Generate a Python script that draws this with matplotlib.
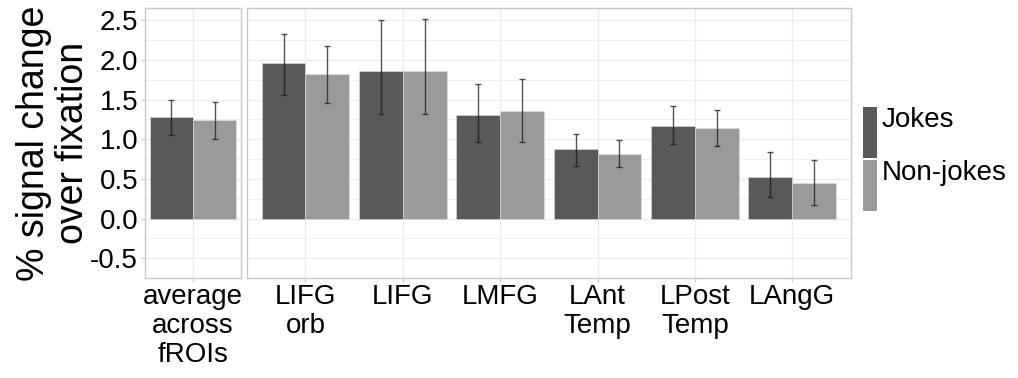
import matplotlib
matplotlib.use("Agg")
import matplotlib.pyplot as plt
import numpy as np
from matplotlib.patches import Rectangle

plt.rcParams["font.family"] = ["Liberation Sans", "DejaVu Sans"]

# average panel
avg_label = ["average\nacross\nfROIs"]
avg_jokes = [1.28]
avg_jokes_lo = [1.05]
avg_jokes_hi = [1.50]
avg_non = [1.245]
avg_non_lo = [1.005]
avg_non_hi = [1.475]

# per-fROI panel
rois = ["LIFG\norb", "LIFG", "LMFG", "LAnt\nTemp", "LPost\nTemp", "LAngG"]
jokes = [1.96, 1.86, 1.31, 0.87, 1.17, 0.525]
jokes_lo = [1.555, 1.315, 0.96, 0.66, 0.94, 0.27]
jokes_hi = [2.325, 2.50, 1.69, 1.07, 1.415, 0.84]
non_jokes = [1.825, 1.86, 1.36, 0.815, 1.145, 0.45]
non_lo = [1.46, 1.32, 0.97, 0.645, 0.91, 0.175]
non_hi = [2.17, 2.51, 1.755, 0.995, 1.37, 0.74]

series_names = ["Jokes", "Non-jokes"]
DARK = "#595959"
LIGHT = "#9a9a9a"
BORDER = "#c8c8c8"
GRID = "#ececec"
W = 1018
H = 378


def px_axes(fig, x0, y0, x1, y1):
    return fig.add_axes([x0 / W, 1 - y1 / H, (x1 - x0) / W, (y1 - y0) / H])


def draw_panel(ax, labels, a, a_lo, a_hi, b, b_lo, b_hi, xlim):
    x = np.arange(1, len(labels) + 1)
    bw = 0.45
    for vals, lo, hi, col, off in [(a, a_lo, a_hi, DARK, -bw / 2),
                                   (b, b_lo, b_hi, LIGHT, bw / 2)]:
        vals = np.array(vals)
        err = [vals - np.array(lo), np.array(hi) - vals]
        ax.bar(x + off, vals, width=bw, color=col, edgecolor="#e0e0e0",
               linewidth=0.4, zorder=2)
        ax.errorbar(x + off, vals, yerr=err, fmt="none", ecolor="#1a1a1a",
                    alpha=0.75, elinewidth=1.0, capsize=2, capthick=1.0, zorder=3)
    ax.set_xlim(*xlim)
    ax.set_ylim(-0.64, 2.65)
    ax.set_xticks(x)
    ax.set_xticklabels(labels, fontsize=20, linespacing=1.15)
    ax.set_yticks(np.arange(-0.5, 2.51, 0.5))
    ax.set_yticks(np.arange(-0.75, 2.6, 0.25), minor=True)
    ax.grid(True, which="major", color=GRID, linewidth=0.9, zorder=0)
    ax.grid(True, which="minor", axis="y", color=GRID, linewidth=0.6, zorder=0)
    ax.set_axisbelow(True)
    for s in ax.spines.values():
        s.set_color(BORDER)
        s.set_linewidth(1.0)
    ax.tick_params(axis="x", length=3, color=BORDER, pad=1)
    ax.tick_params(axis="y", which="minor", length=0)


fig = plt.figure(figsize=(W / 100, H / 100), dpi=100)

ax1 = px_axes(fig, 145, 8.3, 241, 278)
draw_panel(ax1, avg_label, avg_jokes, avg_jokes_lo, avg_jokes_hi,
           avg_non, avg_non_lo, avg_non_hi, (0.5, 1.5))
ax1.set_yticklabels(["-0.5", "0.0", "0.5", "1.0", "1.5", "2.0", "2.5"], fontsize=20)
ax1.tick_params(axis="y", which="major", length=3, color=BORDER, pad=2)
ax1.set_ylabel("% signal change\nover fixation", fontsize=27, linespacing=1.1,
               va="center", ha="center")
ax1.yaxis.set_label_coords(-0.95, 0.5)

ax2 = px_axes(fig, 247, 8.3, 850.7, 278)
draw_panel(ax2, rois, jokes, jokes_lo, jokes_hi,
           non_jokes, non_lo, non_hi, (0.4, 6.6))
ax2.tick_params(axis="y", which="major", length=0, labelleft=False)

# legend
lax = px_axes(fig, 863, 100, 1018, 215)
lax.set_xlim(863, 1018)
lax.set_ylim(215, 100)
lax.axis("off")
key_cols = [DARK, LIGHT]
for i, (name, col) in enumerate(zip(series_names, key_cols)):
    top = 107.3 + i * 52.4
    lax.add_patch(Rectangle((863.3, top), 14, 50.8, facecolor=col, edgecolor="none"))
    lax.text(881.5, top + 13, name, fontsize=20, ha="left", va="center")

fig.savefig("out.png", dpi=100)
